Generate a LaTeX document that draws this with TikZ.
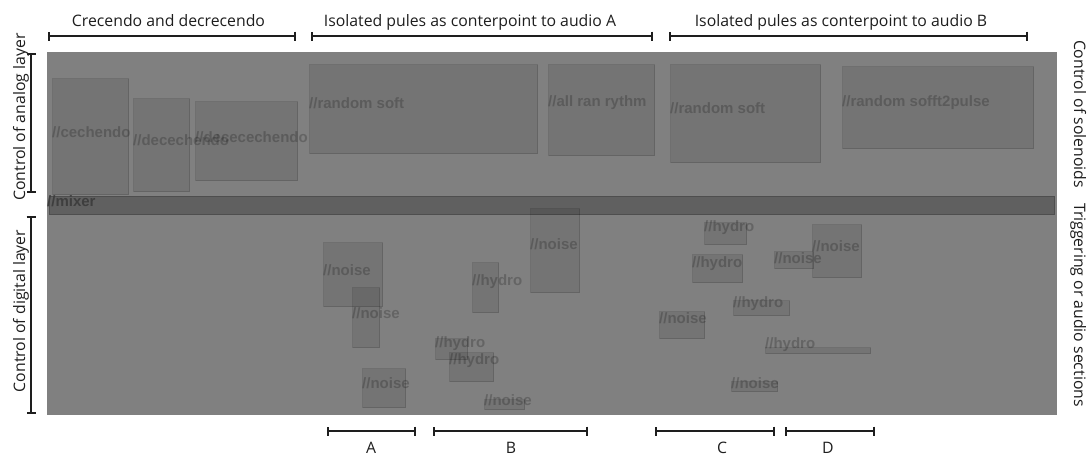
\documentclass[tikz,border=0pt]{standalone}
\usepackage{fontspec}
\setmainfont{Open Sans}
\newfontfamily\boxfont{Liberation Sans}
\usetikzlibrary{arrows.meta}
\definecolor{panelgray}{RGB}{128,128,128}
\definecolor{mixerfill}{RGB}{96,96,96}
\definecolor{mixerline}{RGB}{78,78,78}
\definecolor{inkcol}{RGB}{30,30,30}
\definecolor{mixertext}{RGB}{62,62,62}
\begin{document}
\begin{tikzpicture}[x=1pt,y=-1pt,
  region/.style={draw=black, draw opacity=0.13, fill=black, fill opacity=0.09,
    line width=1pt, inner sep=0pt, anchor=north west},
  tag/.style={anchor=west, inner sep=0pt, text=black, text opacity=0.21,
    font=\boxfont\bfseries\fontsize{15}{15}\selectfont},
  heading/.style={inner sep=0pt, anchor=base, text=inkcol,
    font=\fontsize{15.8}{16}\selectfont},
  sidetext/.style={heading},
  bracket/.style={draw=inkcol, line width=2.2pt,
    {Bar[width=9pt]}-{Bar[width=9pt]}},
]
\useasboundingbox (0,0) rectangle (1088,455);
\fill[white] (0,0) rectangle (1088,455);

% timeline panel
\fill[panelgray] (47,52) rectangle (1057,415);

% ---- analog layer regions
\node[region, minimum width=76, minimum height=116] (cech) at (52,78) {};
\node[region, minimum width=56, minimum height=93]  (dece) at (133,98) {};
\node[region, minimum width=102, minimum height=79] (decece) at (195,101) {};
\node[region, minimum width=228, minimum height=89] (rsoftA) at (309,64) {};
\node[region, minimum width=106, minimum height=91] (allran) at (548,64) {};
\node[region, minimum width=150, minimum height=98] (rsoftB) at (670,64) {};
\node[region, minimum width=191, minimum height=82] (rsoftP) at (842,66) {};

\node[tag] (cechL)   at (52,132)  {//cechendo};
\node[tag] (deceL)   at (133,140) {//decechendo};
\node[tag] (dececeL) at (195,137) {//dececechendo};
\node[tag] (rsoftAL) at (309,103) {//random soft};
\node[tag] (allranL) at (548,103) {//all ran rythm};
\node[tag] (rsoftBL) at (670,108) {//random soft};
\node[tag] (rsoftPL) at (842,103) {//random sofft2pulse};

% ---- mixer strip
\node[draw=mixerline, fill=mixerfill, line width=1pt, inner sep=0pt,
  anchor=north west, minimum width=1005, minimum height=18] (mixer) at (49,196) {};
\node[anchor=west, inner sep=0pt, text=mixertext,
  font=\boxfont\bfseries\fontsize{15}{15}\selectfont] (mixerL) at (47,201) {//mixer};

% ---- digital layer regions
\node[region, minimum width=59, minimum height=64] (nA1) at (323,242) {};
\node[region, minimum width=27, minimum height=60] (nA2) at (352,287) {};
\node[region, minimum width=43, minimum height=39] (nA3) at (362,368) {};
\node[region, minimum width=26, minimum height=50] (hB1) at (472,262) {};
\node[region, minimum width=49, minimum height=84] (nB1) at (530,208) {};
\node[region, minimum width=32, minimum height=21] (hB2) at (435,338) {};
\node[region, minimum width=44, minimum height=29] (hB3) at (449,352) {};
\node[region, minimum width=40, minimum height=10] (nB2) at (484,399) {};
\node[region, minimum width=42, minimum height=22] (hC1) at (704,222) {};
\node[region, minimum width=50, minimum height=28] (hC2) at (692,254) {};
\node[region, minimum width=39, minimum height=17] (nD1) at (774,251) {};
\node[region, minimum width=49, minimum height=53] (nD2) at (812,224) {};
\node[region, minimum width=56, minimum height=15] (hC3) at (733,300) {};
\node[region, minimum width=45, minimum height=27] (nC1) at (659,311) {};
\node[region, minimum width=105, minimum height=6] (hD1) at (765,347) {};
\node[region, minimum width=46, minimum height=10] (nC2) at (731,381) {};

\node[tag] (nA1L) at (323,270) {//noise};
\node[tag] (nA2L) at (352,313) {//noise};
\node[tag] (nA3L) at (362,383) {//noise};
\node[tag] (hB1L) at (472,282) {//hydro};
\node[tag] (nB1L) at (530,244) {//noise};
\node[tag] (hB2L) at (435,344) {//hydro};
\node[tag] (hB3L) at (449,361) {//hydro};
\node[tag] (nB2L) at (484,400) {//noise};
\node[tag] (hC1L) at (704,228) {//hydro};
\node[tag] (hC2L) at (692,264) {//hydro};
\node[tag] (nD1L) at (774,258) {//noise};
\node[tag] (nD2L) at (812,246) {//noise};
\node[tag] (hC3L) at (733,304) {//hydro};
\node[tag] (nC1L) at (659,318) {//noise};
\node[tag] (hD1L) at (765,345) {//hydro};
\node[tag] (nC2L) at (731,383) {//noise};

% ---- section headings
\node[heading] (secA) at (168.5,27) {Crecendo and decrecendo};
\node[heading] (secB) at (470,27)   {Isolated pules as conterpoint to audio A};
\node[heading] (secC) at (841,27)   {Isolated pules as conterpoint to audio B};
\draw[bracket] (48,36)  -- (296,36);
\draw[bracket] (311,36) -- (653,36);
\draw[bracket] (669,36) -- (1028,36);

% ---- layer labels
\node[sidetext, rotate=90] (analog)  at (25,117) {Control of analog layer};
\node[sidetext, rotate=90] (digital) at (25,311) {Control of digital layer};
\draw[bracket] (31,53)  -- (31,193);
\draw[bracket] (31,216) -- (31,414);
\node[sidetext, rotate=-90] (solen) at (1074,114) {Control of solenoids};
\node[sidetext, rotate=-90] (trig)  at (1074,305) {Triggering or audio sections};

% ---- audio sections
\draw[bracket] (327,431) -- (416,431);
\draw[bracket] (433,431) -- (588,431);
\draw[bracket] (655,431) -- (775,431);
\draw[bracket] (785,431) -- (875,431);
\node[heading] (audA) at (371,453) {A};
\node[heading] (audB) at (511,453) {B};
\node[heading] (audC) at (722,453) {C};
\node[heading] (audD) at (828,453) {D};
\end{tikzpicture}
\end{document}
